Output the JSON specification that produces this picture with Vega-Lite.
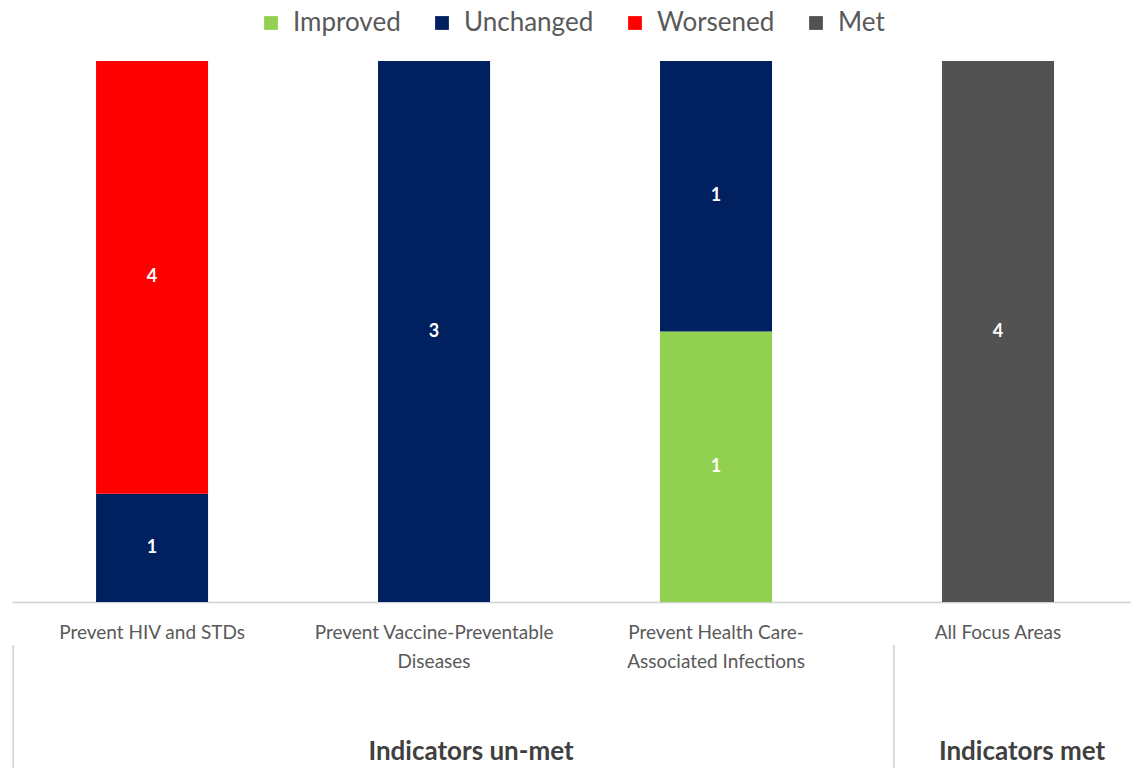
{
  "$schema": "https://vega.github.io/schema/vega-lite/v6.json",
  "width": 1119,
  "height": 541,
  "autosize": "none",
  "padding": {"left": 12, "top": 61, "right": 0, "bottom": 166},
  "config": {
    "view": {"stroke": null},
    "font": "Lato",
    "legend": {"layout": {"top": {"anchor": "middle"}}}
  },
  "datasets": {
    "bars": [
      {"area": "Prevent HIV and STDs", "status": "Unchanged", "count": 1},
      {"area": "Prevent HIV and STDs", "status": "Worsened", "count": 4},
      {"area": "Prevent Vaccine-Preventable Diseases", "status": "Unchanged", "count": 3},
      {"area": "Prevent Health Care-Associated Infections", "status": "Improved", "count": 1},
      {"area": "Prevent Health Care-Associated Infections", "status": "Unchanged", "count": 1},
      {"area": "All Focus Areas", "status": "Met", "count": 4}
    ],
    "groups": [
      {"group": "Indicators un-met", "first": "Prevent HIV and STDs", "center": "Prevent Vaccine-Preventable Diseases"},
      {"group": "Indicators met", "first": "All Focus Areas", "center": "All Focus Areas"}
    ]
  },
  "layer": [
    {
      "data": {"name": "bars"},
      "mark": {"type": "bar"},
      "encoding": {
        "x": {
          "field": "area", "type": "nominal",
          "scale": {"domain": ["Prevent HIV and STDs", "Prevent Vaccine-Preventable Diseases", "Prevent Health Care-Associated Infections", "All Focus Areas"], "paddingInner": 0.6028, "paddingOuter": 0.2855, "align": 0.522},
          "axis": {
            "title": null, "ticks": false, "domainColor": "#d0d0d0", "domainWidth": 1.5,
            "labelColor": "#595959", "labelFontSize": 19, "labelPadding": 21,
            "labelLineHeight": 29, "labelAngle": 0, "labelLimit": 300,
            "labelExpr": "datum.label == 'Prevent Vaccine-Preventable Diseases' ? ['Prevent Vaccine-Preventable', 'Diseases'] : datum.label == 'Prevent Health Care-Associated Infections' ? ['Prevent Health Care-', 'Associated Infections'] : datum.label"
          }
        },
        "y": {
          "aggregate": "sum", "field": "count", "type": "quantitative", "stack": "normalize",
          "scale": {"domain": [0, 1]}, "axis": null
        },
        "color": {
          "field": "status", "type": "nominal",
          "scale": {"domain": ["Improved", "Unchanged", "Worsened", "Met"], "range": ["#92D050", "#002060", "#FF0000", "#525252"]},
          "legend": {
            "title": null, "orient": "top", "direction": "horizontal", "offset": 25,
            "symbolType": "square", "symbolSize": 190, "symbolStrokeWidth": 0,
            "labelFontSize": 26, "labelColor": "#595959", "columnPadding": 28, "symbolOffset": 0, "labelOffset": 9
          }
        },
        "order": {"field": "status", "sort": "ascending"}
      }
    },
    {
      "data": {"name": "bars"},
      "mark": {"type": "text", "color": "white", "fontWeight": "bold", "fontSize": 18, "baseline": "middle"},
      "encoding": {
        "x": {"field": "area", "type": "nominal"},
        "y": {"aggregate": "sum", "field": "count", "type": "quantitative", "stack": "normalize", "bandPosition": 0.5},
        "detail": {"field": "status"},
        "order": {"field": "status", "sort": "ascending"},
        "text": {"aggregate": "sum", "field": "count", "type": "quantitative"}
      }
    },
    {
      "data": {"name": "groups"},
      "transform": [{"filter": "datum.group == 'Indicators un-met'"}],
      "mark": {"type": "rule", "color": "#d0d0d0", "strokeWidth": 1.5},
      "encoding": {
        "x": {"field": "first", "type": "nominal", "bandPosition": -0.74},
        "y": {"datum": -0.0795, "type": "quantitative"},
        "y2": {"datum": -0.31}
      }
    },
    {
      "data": {"name": "groups"},
      "transform": [{"filter": "datum.group == 'Indicators met'"}],
      "mark": {"type": "rule", "color": "#d0d0d0", "strokeWidth": 1.5},
      "encoding": {
        "x": {"field": "first", "type": "nominal", "bandPosition": -0.43},
        "y": {"datum": -0.0795, "type": "quantitative"},
        "y2": {"datum": -0.31}
      }
    },
    {
      "data": {"name": "groups"},
      "transform": [{"filter": "datum.group == 'Indicators un-met'"}],
      "mark": {"type": "text", "fontWeight": "bold", "fontSize": 26, "color": "#404040", "baseline": "middle", "align": "center"},
      "encoding": {
        "x": {"field": "center", "type": "nominal", "bandPosition": 0.83},
        "y": {"datum": -0.277, "type": "quantitative"},
        "text": {"field": "group"}
      }
    },
    {
      "data": {"name": "groups"},
      "transform": [{"filter": "datum.group == 'Indicators met'"}],
      "mark": {"type": "text", "fontWeight": "bold", "fontSize": 26, "color": "#404040", "baseline": "middle", "align": "center"},
      "encoding": {
        "x": {"field": "center", "type": "nominal", "bandPosition": 0.714},
        "y": {"datum": -0.277, "type": "quantitative"},
        "text": {"field": "group"}
      }
    }
  ]
}
